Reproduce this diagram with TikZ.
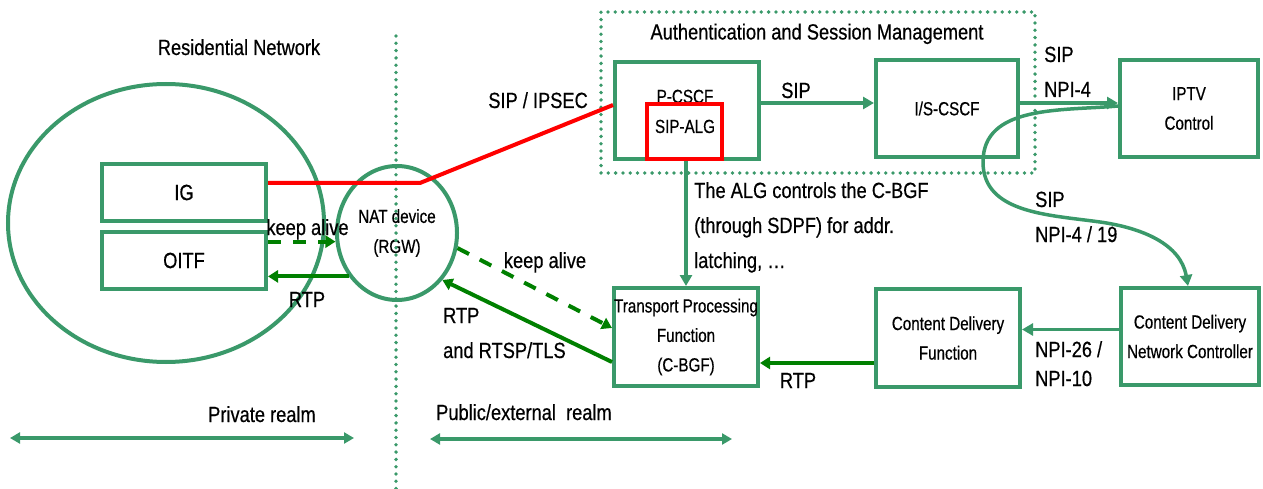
\documentclass[tikz,border=0pt]{standalone}
\usepackage{fontspec}
\setmainfont[FakeStretch=0.83,FakeBold=0.5]{Liberation Sans}
\newfontfamily\boxfont[FakeStretch=0.8,FakeBold=0.5]{Liberation Sans}
\usetikzlibrary{arrows.meta,shapes.geometric}
\definecolor{bgreen}{RGB}{58,153,106}
\definecolor{dgreen}{RGB}{0,128,0}
\definecolor{pred}{RGB}{255,0,0}
\tikzset{
  lbl/.style={inner sep=0pt, font=\fontsize{22}{35}\selectfont},
  boxtxt/.style={inner sep=0pt, font=\boxfont\fontsize{19}{29.5}\selectfont},
  blk/.style={draw=bgreen, line width=4pt, inner sep=0pt, align=center, font=\boxfont\fontsize{19}{29.5}\selectfont},
  bigblk/.style={blk, font=\fontsize{22}{35}\selectfont},
  dotline/.style={draw=bgreen, line width=3.8pt, line cap=round, dash pattern=on 0pt off 7.3pt},
  garr/.style={draw=bgreen, line width=3.5pt, -{Triangle[length=11pt,width=12pt]}},
  darr/.style={draw=dgreen, line width=4pt, -{Triangle[length=10pt,width=12pt]}},
  ddash/.style={darr, dash pattern=on 13pt off 12pt},
  redl/.style={draw=pred, line width=4pt},
  barr/.style={draw=bgreen, line width=3.5pt, {Triangle[length=10pt,width=11pt]}-{Triangle[length=10pt,width=11pt]}},
}
\begin{document}
\begin{tikzpicture}[x=1pt,y=1pt]
\useasboundingbox (0,0) rectangle (1263,-489);
% residential network
\node[ellipse, draw=bgreen, line width=4pt, minimum width=316pt, minimum height=278pt, inner sep=0pt] (res) at (166,-223) {};
\node[lbl, anchor=base] (resl) at (239,-55) {Residential Network};
\node[bigblk, minimum width=164pt, minimum height=57pt] (ig) at (184,-192.5) {IG};
\node[bigblk, minimum width=164pt, minimum height=57pt] (oitf) at (184,-260.5) {OITF};
% NAT
\node[ellipse, draw=bgreen, line width=4pt, minimum width=120pt, minimum height=134pt, inner sep=0pt, align=center, font=\boxfont\fontsize{19}{30}\selectfont] (nat) at (397,-233) {NAT device\\(RGW)};
% realm divider
\coordinate (dtop) at (396,-36);
\coordinate (dbot) at (396,-489);
\draw[dotline] (dtop) -- (dbot);
% authentication and session management
\node[dotline, minimum width=434pt, minimum height=161pt, inner sep=0pt] (asm) at (818,-92.5) {};
\node[lbl, anchor=base] (asml) at (817,-39.5) {Authentication and Session Management};
\node[blk, minimum width=144pt, minimum height=97pt] (pcscf) at (687,-110.5) {};
\node[boxtxt, anchor=base] (pcscfl) at (685,-103) {P-CSCF};
\node[draw=pred, line width=4pt, fill=white, minimum width=75pt, minimum height=55pt, inner sep=0pt] (alg) at (684.5,-131.5) {};
\node[boxtxt, anchor=base] (algl) at (685,-133) {SIP-ALG};
\node[blk, minimum width=142pt, minimum height=97pt] (iscscf) at (947,-108.5) {I/S-CSCF};
\node[blk, minimum width=138pt, minimum height=97pt] (iptv) at (1189,-108.5) {IPTV\\Control};
% lower boxes
\node[blk, minimum width=144pt, minimum height=98pt] (tpf) at (686,-337) {Transport Processing\\Function\\(C-BGF)};
\node[blk, minimum width=144pt, minimum height=98pt] (cdf) at (948,-338) {Content Delivery\\Function};
\node[blk, minimum width=138pt, minimum height=97pt] (cdnc) at (1190,-336.5) {Content Delivery\\Network Controller};
% red SIP/IPSEC path
\coordinate (rb) at (420,-183);
\draw[redl] (ig.east |- rb) -- (rb) -- ([yshift=5.5pt]pcscf.west);
\node[lbl, anchor=base east] (sipip) at (588,-108) {SIP / IPSEC};
% left arrows
\draw[ddash] (nat.188 -| oitf.east) -- (nat.188);
\node[lbl, anchor=base] (ka1) at (307.5,-235) {keep alive};
\draw[darr] (nat.222) -- (nat.222 -| oitf.east);
\node[lbl, anchor=base] (rtp1) at (307,-307) {RTP};
% NAT <-> transport
\draw[ddash] (nat.-14) -- ([yshift=9pt]tpf.west);
\node[lbl, anchor=base] (ka2) at (545,-268) {keep alive};
\draw[darr] ([yshift=-25pt]tpf.west) -- (nat.-46);
\node[lbl, anchor=base west] (rtp2) at (443,-323) {RTP};
\node[lbl, anchor=base west] (rtsp) at (443,-358) {and RTSP/TLS};
% ALG control
\draw[garr] (alg.south -| tpf.north) -- (tpf.north);
\node[lbl, anchor=base west] (alg1) at (694,-198) {The ALG controls the C-BGF};
\node[lbl, anchor=base west] (alg2) at (694,-233) {(through SDPF) for addr.};
\node[lbl, anchor=base west] (alg3) at (694,-268) {latching, …};
% SIP arrows
\draw[garr] ([yshift=7.5pt]pcscf.east) -- ([yshift=7.5pt]pcscf.east -| iscscf.west);
\node[lbl, anchor=base] (sip1) at (796,-98) {SIP};
\draw[garr] ([yshift=5.5pt]iscscf.east) -- ([yshift=5.5pt]iscscf.east -| iptv.west);
\node[lbl, anchor=base west] (sip2) at (1044,-62) {SIP};
\node[lbl, anchor=base west] (npi4) at (1044,-97) {NPI-4};
% curved SIP to CDNC
\coordinate (c1) at (983,-162);
\coordinate (c2) at (1100,-222);
\draw[garr] ([yshift=2.5pt]iptv.west) to[out=185,in=90] (c1) to[out=-90,in=172] (c2) to[out=-8,in=100] ([xshift=-2pt]cdnc.north);
\node[lbl, anchor=base west] (sip3) at (1035,-207) {SIP};
\node[lbl, anchor=base west] (npi419) at (1035,-242) {NPI-4 / 19};
% CDNC -> CDF -> TPF
\draw[garr] ([yshift=7pt]cdnc.west) -- ([yshift=7pt]cdnc.west -| cdf.east);
\node[lbl, anchor=base west] (npi26) at (1035,-357) {NPI-26 /};
\node[lbl, anchor=base west] (npi10) at (1035,-386) {NPI-10};
\draw[darr] ([yshift=-25pt]cdf.west) -- ([yshift=-25pt]cdf.west -| tpf.east);
\node[lbl, anchor=base] (rtp3) at (798,-388) {RTP};
% realms
\coordinate (pl) at (10,-438);
\coordinate (pr) at (354,-438);
\draw[barr] (pl) -- (pr);
\node[lbl, anchor=base] (privl) at (262,-422) {Private realm};
\coordinate (ul) at (430,-439);
\coordinate (ur) at (732,-439);
\draw[barr] (ul) -- (ur);
\node[lbl, anchor=base west] (publ) at (436,-420) {Public/external~~realm};
\end{tikzpicture}
\end{document}
